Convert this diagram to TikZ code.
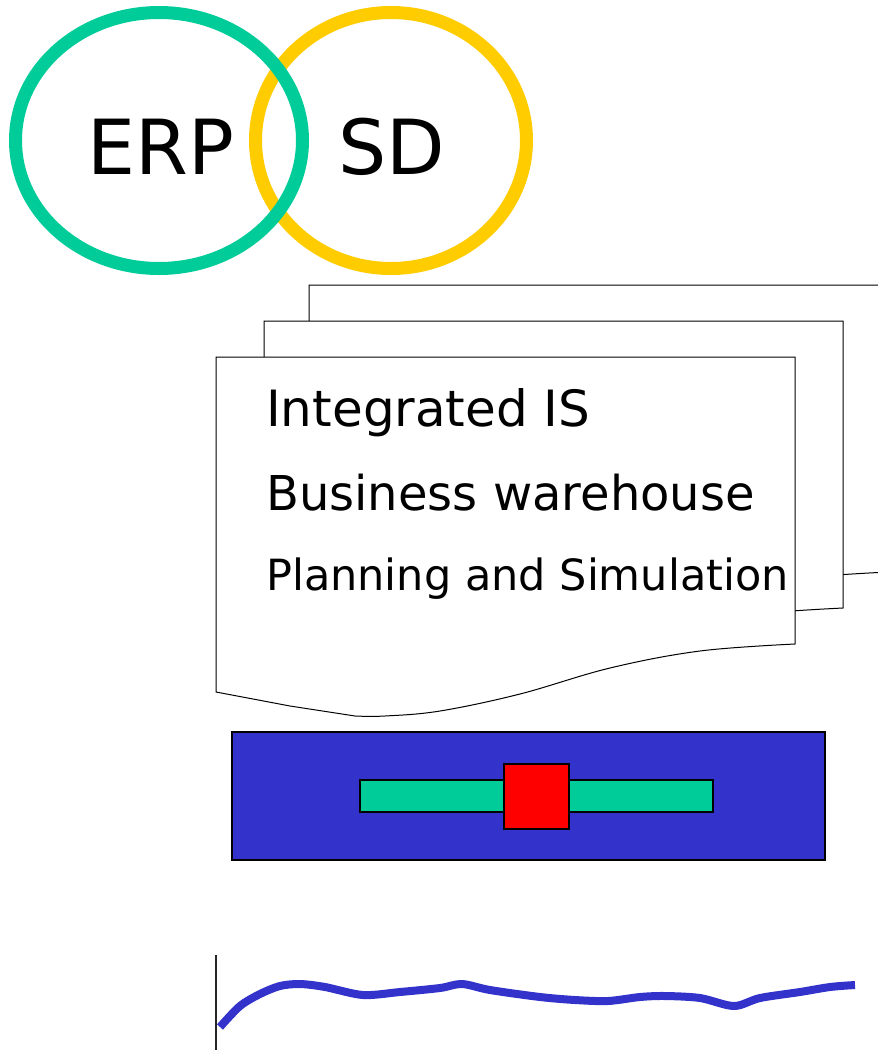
\documentclass[tikz,border=0pt]{standalone}
\usepackage{fontspec}
\setmainfont{DejaVu Sans}
\definecolor{ergreen}{HTML}{00CC99}
\definecolor{sdyellow}{HTML}{FFCC00}
\definecolor{boxblue}{HTML}{3333CC}
\definecolor{barred}{HTML}{FF0000}
\begin{document}
\begin{tikzpicture}[x=1pt,y=-1pt,
  ring/.style={line width=13pt},
  txt/.style={inner sep=0pt, anchor=base west},
  page/.style={draw=black, fill=white, line width=1pt},
  blk/.style={draw=black, line width=1.4pt, inner sep=0pt},
  wave/.style={draw=boxblue, line width=8pt}]
\useasboundingbox (0,0) rectangle (878,1050);
\fill[white] (0,0) rectangle (878,1050);
\clip (0,0) rectangle (878,1050);

% Venn rings
\draw[ring, sdyellow] (391,140.5) ellipse [x radius=135.5, y radius=128];
\draw[ring, ergreen] (159,140.5) ellipse [x radius=143.5, y radius=128];
\node[txt, font=\fontsize{76}{80}\selectfont] (erp) at (87,174) {ERP};
\node[txt, font=\fontsize{76}{80}\selectfont] (sd) at (338,174) {SD};

% stacked documents
\foreach \dx/\dy in {93/-72, 48/-36, 0/0}{
  \filldraw[page, shift={(\dx,\dy)}] (216,357) -- (795,357) -- (795,644)
    -- plot[smooth, tension=0.6] coordinates {(795,644) (700,651) (610,668) (520,694) (440,711) (385,716) (355,716)}
    -- (290,706) -- (216,692) -- cycle;
}
\node[txt, font=\fontsize{50}{54}\selectfont] (l1) at (266,426) {Integrated IS};
\node[txt, font=\fontsize{48}{52}\selectfont] (l2) at (266,510) {Business warehouse};
\node[txt, font=\fontsize{43}{47}\selectfont] (l3) at (266,590) {Planning and Simulation};

% slider panel
\node[blk, fill=boxblue, minimum width=593pt, minimum height=128pt] (panel) at (528.5,796) {};
\node[blk, fill=ergreen, minimum width=353pt, minimum height=32pt] (bar) at (536.5,796) {};
\node[blk, fill=barred, minimum width=65pt, minimum height=65pt] (knob) at (536.5,796.5) {};

% bottom chart
\coordinate (axtop) at (216,955);
\coordinate (axbot) at (216,1050);
\draw[line width=1.4pt, black!85] (axtop) -- (axbot);
\draw[wave] plot[smooth, tension=0.5] coordinates {(220,1027) (240,1006) (260,994) (280,986) (300,984) (325,987) (363,995) (400,992) (440,988) (462,984) (490,990) (540,997) (575,1000) (608,1001) (640,997) (665,996) (700,998) (734,1006) (760,998) (800,992) (830,987) (855,985)};
\end{tikzpicture}
\end{document}
